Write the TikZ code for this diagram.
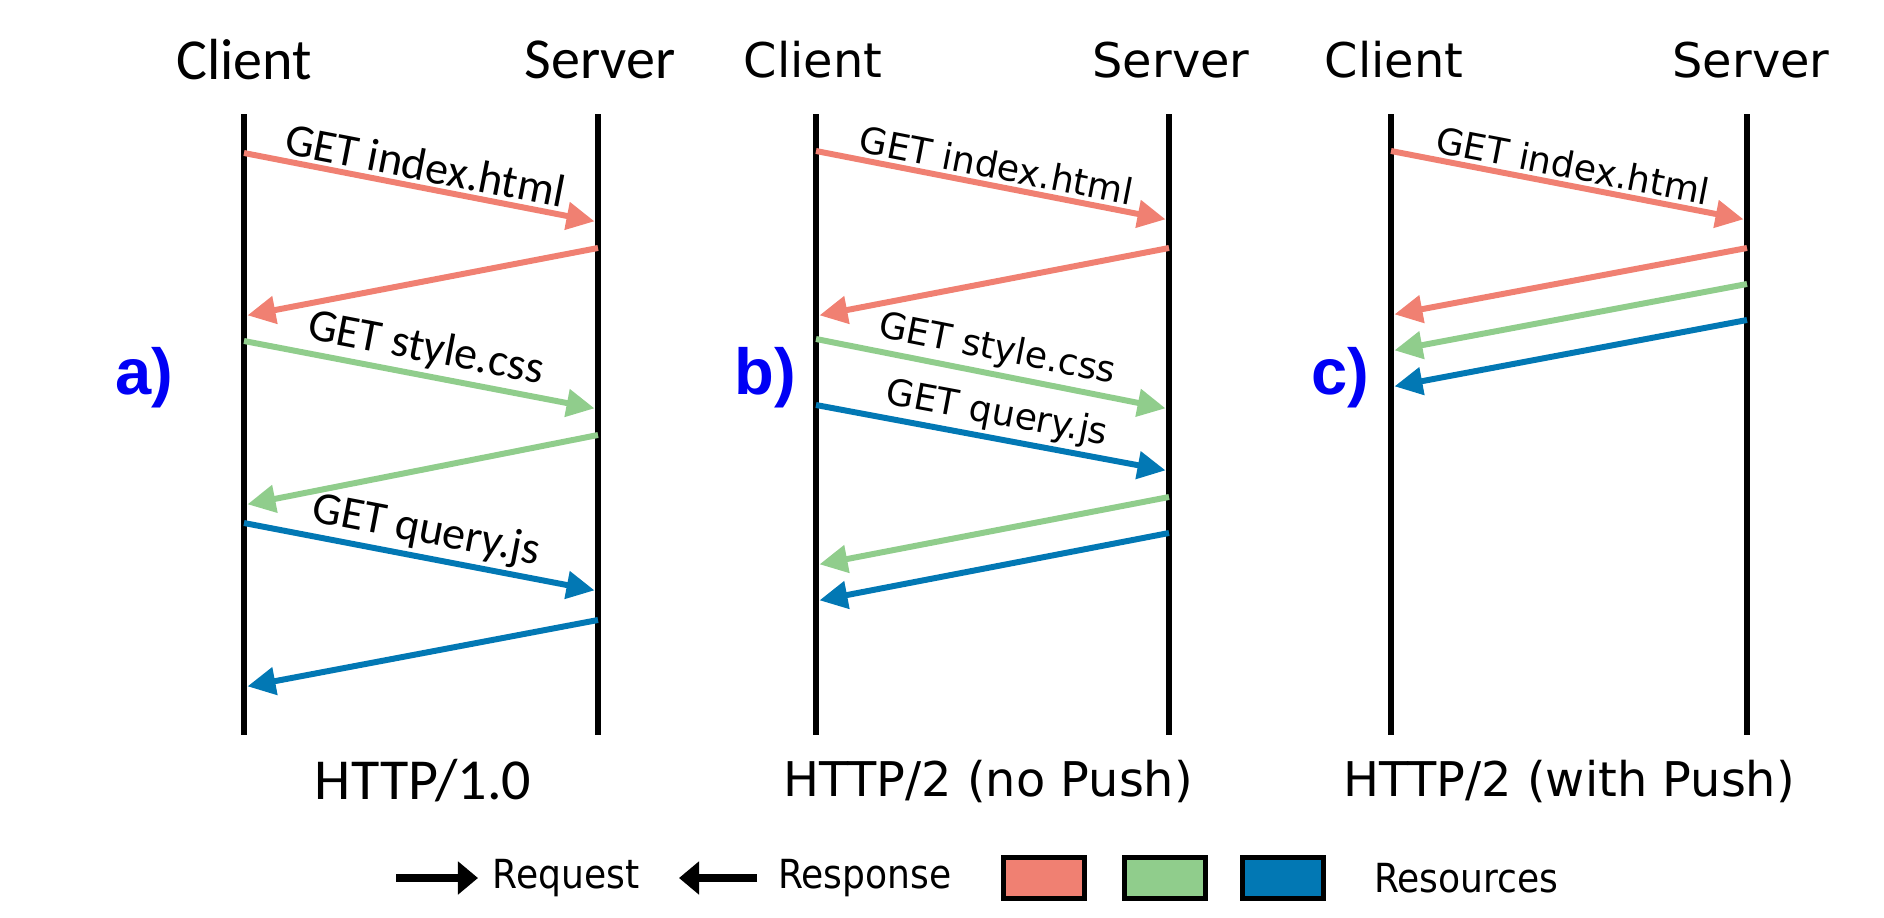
\documentclass[tikz,border=0pt]{standalone}
\usepackage{fontspec}
\setmainfont{DejaVu Sans}
\newfontfamily\calfont{Carlito}
\newfontfamily\legfont{DejaVu Sans Condensed}
\newfontfamily\tagfont{Liberation Sans}
\usetikzlibrary{arrows.meta}

\definecolor{resred}{RGB}{240,128,114}
\definecolor{resgreen}{RGB}{144,205,140}
\definecolor{resblue}{RGB}{2,120,180}
\definecolor{tagblue}{RGB}{0,0,245}

\tikzset{
  life/.style={line width=1.9pt},
  msg/.style={line width=1.7pt,shorten >=1pt,-{Triangle[length=0.28cm,width=0.27cm]}},
  lbl/.style={midway,above,sloped,inner sep=1pt},
  hdrA/.style={font=\calfont\fontsize{16.5}{18}\selectfont},
  hdrB/.style={font=\fontsize{13.6}{15}\selectfont},
  getA/.style={font=\calfont\fontsize{13.1}{14}\selectfont},
  getB/.style={font=\fontsize{10.3}{12}\selectfont},
  tag/.style={font=\tagfont\bfseries\fontsize{18.5}{20}\selectfont,text=tagblue},
  leg/.style={font=\legfont\fontsize{11.4}{13}\selectfont},
  legarrow/.style={line width=2.4pt,-{Triangle[length=0.2cm,width=0.32cm]}},
  resbox/.style={draw,line width=1.5pt,minimum width=0.81cm,minimum height=0.41cm,inner sep=0pt},
}

\begin{document}
\begin{tikzpicture}[x=0.01cm,y=-0.01cm]
  \useasboundingbox (0,0) rectangle (1884,918);

  % a) HTTP/1.0
  \coordinate (ac0) at (244,114); \coordinate (ac9) at (244,735);
  \coordinate (as0) at (598,114); \coordinate (as9) at (598,735);
  \draw[life] (ac0) -- (ac9);
  \draw[life] (as0) -- (as9);
  \node[hdrA] (aclient) at (244,60) {Client};
  \node[hdrA] (aserver) at (600,60) {Server};
  \node[hdrA] (aproto) at (423,781) {HTTP/1.0};
  \node[tag] (atag) at (144,378) {a)};
  \coordinate (ac1) at (244,153); \coordinate (as1) at (598,222);
  \coordinate (as2) at (598,248); \coordinate (ac2) at (244,316);
  \coordinate (ac3) at (244,341); \coordinate (as3) at (598,409);
  \coordinate (as4) at (598,435); \coordinate (ac4) at (244,505);
  \coordinate (ac5) at (244,523); \coordinate (as5) at (598,591);
  \coordinate (as6) at (598,620); \coordinate (ac6) at (244,687);
  \draw[msg,resred] (ac1) -- node[lbl,getA,text=black] {GET index.html} (as1);
  \draw[msg,resred] (as2) -- (ac2);
  \draw[msg,resgreen] (ac3) -- node[lbl,getA,text=black] {GET style.css} (as3);
  \draw[msg,resgreen] (as4) -- (ac4);
  \draw[msg,resblue] (ac5) -- node[lbl,getA,text=black] {GET query.js} (as5);
  \draw[msg,resblue] (as6) -- (ac6);

  % b) HTTP/2 without push
  \coordinate (bc0) at (816,114); \coordinate (bc9) at (816,735);
  \coordinate (bs0) at (1169,114); \coordinate (bs9) at (1169,735);
  \draw[life] (bc0) -- (bc9);
  \draw[life] (bs0) -- (bs9);
  \node[hdrB] (bclient) at (813,60) {Client};
  \node[hdrB] (bserver) at (1171,60) {Server};
  \node[hdrB] (bproto) at (988,781) {HTTP/2 (no Push)};
  \node[tag] (btag) at (765,378) {b)};
  \coordinate (bc1) at (816,151); \coordinate (bs1) at (1169,220);
  \coordinate (bs2) at (1169,248); \coordinate (bc2) at (816,316);
  \coordinate (bc3) at (816,339); \coordinate (bs3) at (1169,409);
  \coordinate (bc4) at (816,405); \coordinate (bs4) at (1169,471);
  \coordinate (bs5) at (1169,497); \coordinate (bc5) at (816,565);
  \coordinate (bs6) at (1169,533); \coordinate (bc6) at (816,601);
  \draw[msg,resred] (bc1) -- node[lbl,getB,text=black] {GET index.html} (bs1);
  \draw[msg,resred] (bs2) -- (bc2);
  \draw[msg,resgreen] (bc3) -- node[lbl,getB,text=black] {GET style.css} (bs3);
  \draw[msg,resblue] (bc4) -- node[lbl,getB,text=black] {GET query.js} (bs4);
  \draw[msg,resgreen] (bs5) -- (bc5);
  \draw[msg,resblue] (bs6) -- (bc6);

  % c) HTTP/2 with push
  \coordinate (cc0) at (1391,114); \coordinate (cc9) at (1391,735);
  \coordinate (cs0) at (1747,114); \coordinate (cs9) at (1747,735);
  \draw[life] (cc0) -- (cc9);
  \draw[life] (cs0) -- (cs9);
  \node[hdrB] (cclient) at (1394,60) {Client};
  \node[hdrB] (cserver) at (1751,60) {Server};
  \node[hdrB] (cproto) at (1569,781) {HTTP/2 (with Push)};
  \node[tag] (ctag) at (1340,378) {c)};
  \coordinate (cc1) at (1391,151); \coordinate (cs1) at (1747,220);
  \coordinate (cs2) at (1747,248); \coordinate (cc2) at (1391,315);
  \coordinate (cs3) at (1747,284); \coordinate (cc3) at (1391,351);
  \coordinate (cs4) at (1747,320); \coordinate (cc4) at (1391,387);
  \draw[msg,resred] (cc1) -- node[lbl,getB,text=black] {GET index.html} (cs1);
  \draw[msg,resred] (cs2) -- (cc2);
  \draw[msg,resgreen] (cs3) -- (cc3);
  \draw[msg,resblue] (cs4) -- (cc4);

  % legend
  \coordinate (rq0) at (396,878); \coordinate (rq1) at (478,878);
  \coordinate (rs0) at (757,878); \coordinate (rs1) at (679,878);
  \draw[legarrow] (rq0) -- (rq1);
  \draw[legarrow] (rs0) -- (rs1);
  \node[leg] (request) at (566,878) {Request};
  \node[leg] (response) at (865,878) {Response};
  \node[resbox,fill=resred] (boxred) at (1044,878) {};
  \node[resbox,fill=resgreen] (boxgreen) at (1165,878) {};
  \node[resbox,fill=resblue] (boxblue) at (1283,878) {};
  \node[leg] (resources) at (1466,878) {Resources};
\end{tikzpicture}
\end{document}
